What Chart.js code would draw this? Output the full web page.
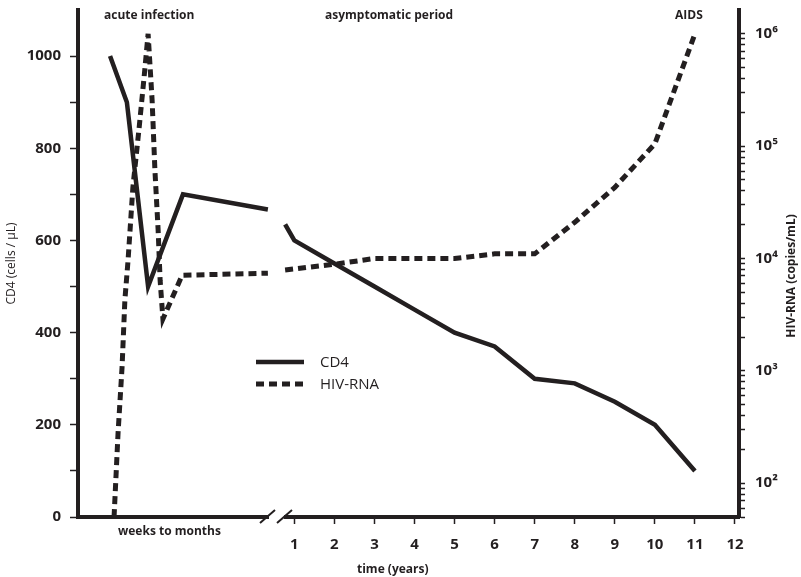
<!DOCTYPE html>
<html>
<head>
<meta charset="utf-8">
<script src="https://cdn.jsdelivr.net/npm/chart.js@4.4.1/dist/chart.umd.min.js"></script>
<style>
  html, body { margin: 0; padding: 0; background: #fff; }
  #wrap { width: 801px; height: 577px; }
</style>
</head>
<body>
<div id="wrap"><canvas id="hiv-chart" width="801" height="577"></canvas></div>
<script>
// x position in "years"; the part left of the axis break (negative values) is the weeks-to-months phase
const cd4X = [-3.60, -3.18, -2.65, -1.78, 0.34, 0.55, 0.77, 1, 2, 3, 4, 5, 6, 7, 8, 9, 10, 11];
const cd4Values = [1000, 900, 500, 700, 667, null, 635, 600, 550, 500, 450, 400, 370, 300, 290, 250, 200, 100];

const rnaX = [-3.50, -3.40, -3.30, -3.23, -3.15, -3.03, -2.88, -2.75, -2.65, -2.55, -2.48, -2.40, -2.35, -2.28, -1.80, 0.34, 0.55, 0.77, 2, 3, 4, 5, 6, 7, 8, 9, 10, 11];
const rnaValues = [50, 280, 1080, 4270, 9700, 43000, 139000, 412000, 1000000, 257000, 61000, 18000, 6400, 2900, 7100, 7400, null, 7900, 8900, 10000, 10000, 10000, 11000, 11000, 21000, 43000, 105000, 1000000];

const yearTicks = [1, 2, 3, 4, 5, 6, 7, 8, 9, 10, 11, 12];
const cd4Ticks = [0, 100, 200, 300, 400, 500, 600, 700, 800, 900, 1000];
const cd4TickLabels = ['0', '', '200', '', '400', '', '600', '', '800', '', '1000'];
const rnaMajorTicks = [100, 1000, 10000, 100000, 1000000];
const rnaTickLabels = ['10²', '10³', '10⁴', '10⁵', '10⁶'];

const ink = '#231f20';
const family = "'Open Sans', 'DejaVu Sans', sans-serif";

// minor ticks 50..90, 200..900 ... up to 10^6
const rnaTicks = [50, 60, 70, 80, 90];
rnaMajorTicks.forEach(p => {
    rnaTicks.push(p);
    if (p < 1000000) {
        for (let m = 2; m <= 9; m++) rnaTicks.push(p * m);
    }
});

// no extra room for the edge labels, the chart area is set by the layout padding
function noEdgePadding(s) {
    s.paddingTop = 0;
    s.paddingBottom = 0;
    s.paddingLeft = 0;
    s.paddingRight = 0;
}

// texts, legend and axis break
const decorPlugin = {
    id: 'decor',
    afterDraw(chart) {
        const ctx = chart.ctx;
        ctx.save();
        ctx.fillStyle = ink;
        ctx.textBaseline = 'middle';
        ctx.textAlign = 'left';
        ctx.font = 'bold 12px ' + family;
        ctx.fillText('acute infection', 104, 16);
        ctx.fillText('asymptomatic period', 325, 16);
        ctx.fillText('AIDS', 675, 16);
        ctx.fillText('weeks to months', 118, 532);
        ctx.fillText('time (years)', 357, 570);

        // right axis title, read from bottom to top
        ctx.save();
        ctx.translate(792, 276);
        ctx.rotate(-Math.PI / 2);
        ctx.textAlign = 'center';
        ctx.fillText('HIV-RNA (copies/mL)', 0, 0);
        ctx.restore();

        // legend
        chart.data.datasets.forEach((ds, i) => {
            const y = 362 + i * 22;
            ctx.beginPath();
            ctx.strokeStyle = ds.borderColor;
            ctx.lineWidth = ds.borderWidth;
            ctx.setLineDash(ds.borderDash || []);
            ctx.moveTo(256, y);
            ctx.lineTo(304, y);
            ctx.stroke();
            ctx.setLineDash([]);
            ctx.font = '15px ' + family;
            ctx.fillText(ds.label, 320, y + 1);
        });

        // axis break
        const yb = chart.chartArea.bottom;
        ctx.fillStyle = '#fff';
        ctx.fillRect(269, yb - 3, 15, 6);
        ctx.strokeStyle = ink;
        ctx.lineWidth = 2;
        ctx.beginPath();
        ctx.moveTo(260, yb + 6);
        ctx.lineTo(275, yb - 7);
        ctx.moveTo(277, yb + 6);
        ctx.lineTo(292, yb - 7);
        ctx.stroke();
        ctx.restore();
    }
};

const ctx = document.getElementById('hiv-chart').getContext('2d');
const chart = new Chart(ctx, {
    type: 'line',
    data: {
        datasets: [
            {
                label: 'CD4',
                data: cd4X.map((x, i) => ({ x: x, y: cd4Values[i] })),
                yAxisID: 'y',
                borderColor: ink,
                borderWidth: 4.5,
                borderJoinStyle: 'miter',
                pointRadius: 0,
                tension: 0,
                spanGaps: false
            },
            {
                label: 'HIV-RNA',
                data: rnaX.map((x, i) => ({ x: x, y: rnaValues[i] })),
                yAxisID: 'y2',
                borderColor: ink,
                borderWidth: 5,
                borderDash: [8, 5],
                pointRadius: 0,
                tension: 0,
                spanGaps: false
            }
        ]
    },
    options: {
        responsive: false,
        animation: false,
        layout: { padding: { top: 10, left: 0, right: 0, bottom: 0 } },
        plugins: {
            legend: { display: false },
            tooltip: { enabled: false }
        },
        scales: {
            x: {
                type: 'linear',
                min: -4.4,
                max: 12.1,
                afterBuildTicks: s => { s.ticks = yearTicks.map(v => ({ value: v })); },
                afterFit: s => { s.height = 60; noEdgePadding(s); },
                border: { color: ink, width: 4 },
                grid: { drawOnChartArea: false, tickLength: 7, tickColor: ink, tickWidth: 1.5 },
                ticks: {
                    color: ink,
                    font: { family: family, size: 15, weight: 'bold' },
                    padding: 12,
                    maxRotation: 0,
                    autoSkip: false,
                    callback: v => String(v)
                }
            },
            y: {
                position: 'left',
                min: 0,
                max: 1100,
                afterBuildTicks: s => { s.ticks = cd4Ticks.map(v => ({ value: v })); },
                afterFit: s => { s.width = 78; noEdgePadding(s); },
                border: { color: ink, width: 4 },
                grid: { drawOnChartArea: false, tickLength: 8, tickColor: ink, tickWidth: 1.5 },
                ticks: {
                    color: ink,
                    font: { family: family, size: 15, weight: 'bold' },
                    padding: 9,
                    autoSkip: false,
                    callback: v => cd4TickLabels[cd4Ticks.indexOf(v)]
                },
                title: {
                    display: true,
                    text: 'CD4 (cells / µL)',
                    color: ink,
                    font: { family: family, size: 12 },
                    padding: { top: 4, bottom: 0 }
                }
            },
            y2: {
                type: 'logarithmic',
                position: 'right',
                min: 50,
                max: 1630000,
                afterBuildTicks: s => { s.ticks = rnaTicks.map(v => ({ value: v })); },
                afterFit: s => { s.width = 62; noEdgePadding(s); },
                border: { color: ink, width: 4 },
                grid: { drawOnChartArea: false, tickLength: 6, tickColor: ink, tickWidth: 1.5 },
                ticks: {
                    color: ink,
                    font: { family: family, size: 15, weight: 'bold' },
                    padding: 10,
                    autoSkip: false,
                    callback: v => {
                        const k = rnaMajorTicks.indexOf(v);
                        return k >= 0 ? rnaTickLabels[k] : '';
                    }
                }
            }
        }
    },
    plugins: [decorPlugin]
});
</script>
</body>
</html>
